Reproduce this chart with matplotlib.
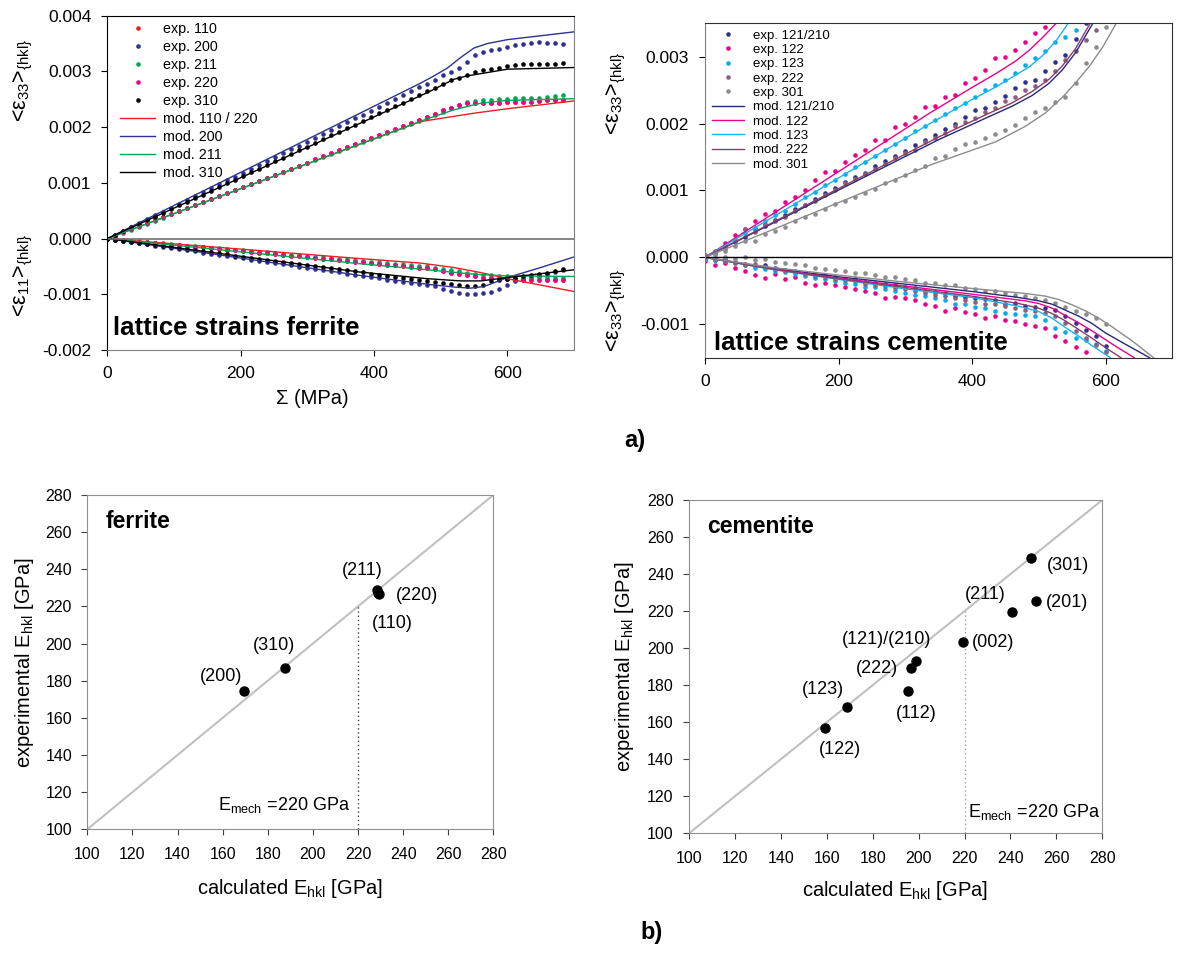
import numpy as np
import matplotlib
matplotlib.use("Agg")
import matplotlib.pyplot as plt

plt.rcParams['font.family'] = ['Liberation Sans', 'DejaVu Sans']
plt.rcParams['mathtext.fontset'] = 'custom'
plt.rcParams['mathtext.rm'] = 'Liberation Sans'
plt.rcParams['mathtext.it'] = 'Liberation Sans:italic'
plt.rcParams['mathtext.bf'] = 'Liberation Sans:bold'
plt.rcParams['axes.unicode_minus'] = False

# ---------------- ferrite lattice strains (microstrain) ----------------
stress_fe = [0, 12, 24, 36, 48, 60, 72, 84, 96, 108, 120, 132, 144, 156, 168, 180, 192, 204,
             216, 228, 240, 252, 264, 276, 288, 300, 312, 324, 336, 348, 360, 372, 384, 396,
             408, 420, 432, 444, 456, 468, 480, 492, 504, 516, 528, 540, 552, 564, 576, 588,
             600, 612, 624, 636, 648, 660, 672, 684]

fe33_200 = [0, 70, 140, 210, 280, 350, 415, 485, 555, 625, 695, 765, 835, 905, 975, 1045, 1110,
            1180, 1250, 1320, 1390, 1460, 1530, 1600, 1670, 1740, 1810, 1880, 1950, 2020, 2085,
            2155, 2225, 2295, 2365, 2435, 2505, 2575, 2645, 2715, 2780, 2850, 2930, 2990, 3060,
            3170, 3290, 3340, 3390, 3410, 3440, 3480, 3500, 3515, 3520, 3510, 3510, 3500]
fe33_310 = [0, 65, 130, 200, 265, 330, 395, 460, 530, 595, 660, 725, 790, 860, 925, 990, 1055,
            1120, 1190, 1255, 1320, 1385, 1450, 1520, 1585, 1650, 1715, 1780, 1850, 1915, 1980,
            2045, 2110, 2180, 2245, 2310, 2375, 2440, 2510, 2575, 2640, 2705, 2775, 2840, 2880,
            2930, 2990, 3020, 3050, 3070, 3090, 3110, 3130, 3140, 3140, 3140, 3140, 3150]
fe33_220 = [0, 55, 110, 165, 220, 275, 330, 380, 435, 490, 545, 600, 655, 710, 765, 820, 875,
            930, 985, 1035, 1090, 1145, 1200, 1255, 1310, 1365, 1420, 1475, 1530, 1585, 1640,
            1690, 1745, 1800, 1855, 1910, 1965, 2020, 2075, 2130, 2190, 2230, 2300, 2350, 2400,
            2440, 2440, 2430, 2440, 2440, 2450, 2450, 2460, 2460, 2470, 2480, 2480, 2490]
fe33_211 = [0, 54, 108, 162, 216, 270, 324, 378, 432, 486, 540, 594, 648, 702, 756, 810, 864,
            918, 972, 1026, 1080, 1134, 1188, 1242, 1296, 1350, 1404, 1458, 1512, 1566, 1620,
            1674, 1728, 1782, 1836, 1890, 1944, 1998, 2052, 2106, 2165, 2215, 2280, 2340, 2390,
            2450, 2470, 2480, 2490, 2500, 2510, 2520, 2520, 2530, 2530, 2540, 2550, 2570]
fe33_110 = fe33_220  # 110 and 220 are the same reflection family, points coincide

fe11_200 = [0, -21, -42, -63, -84, -105, -126, -147, -168, -189, -210, -231, -252, -273, -294,
            -315, -336, -357, -378, -399, -420, -441, -462, -483, -504, -525, -546, -567, -588,
            -609, -630, -651, -672, -693, -714, -735, -756, -777, -798, -815, -830, -855, -900,
            -935, -975, -995, -1000, -985, -955, -900, -830, -770, -720, -690, -665, -635, -600,
            -560]
fe11_310 = [0, -19, -38, -57, -76, -95, -114, -133, -152, -171, -190, -209, -228, -247, -266,
            -285, -304, -323, -342, -361, -380, -399, -418, -437, -456, -475, -494, -513, -532,
            -551, -570, -589, -608, -627, -646, -665, -684, -703, -722, -741, -760, -780, -800,
            -820, -840, -855, -860, -830, -770, -745, -720, -700, -670, -650, -630, -615, -590,
            -550]
fe11_220 = [0, -13, -27, -40, -53, -67, -80, -93, -107, -120, -133, -147, -160, -173, -187,
            -200, -213, -227, -240, -253, -267, -280, -293, -307, -320, -333, -347, -360, -373,
            -387, -400, -413, -427, -440, -453, -467, -480, -493, -507, -520, -533, -550, -580,
            -610, -640, -660, -680, -700, -710, -720, -730, -740, -740, -745, -745, -745, -750,
            -750]
fe11_211 = [0, -12, -25, -37, -50, -62, -75, -87, -100, -112, -125, -137, -150, -162, -175,
            -187, -200, -212, -225, -237, -250, -262, -275, -287, -300, -312, -325, -337, -350,
            -362, -375, -387, -400, -412, -425, -437, -450, -462, -475, -487, -500, -520, -545,
            -570, -590, -610, -630, -650, -660, -670, -680, -690, -690, -695, -695, -700, -700,
            -700]
fe11_110 = fe11_220

# model curves (stress, microstrain)
mod_fe33 = {
    '110 / 220': ([0, 470, 550, 600, 700], [0, 2100, 2250, 2330, 2470]),
    '200': ([0, 470, 490, 510, 530, 550, 570, 600, 650, 700],
            [0, 2790, 2920, 3060, 3250, 3420, 3500, 3570, 3640, 3710]),
    '211': ([0, 480, 520, 560, 600, 700], [0, 2150, 2310, 2430, 2480, 2510]),
    '310': ([0, 480, 500, 520, 540, 560, 600, 700], [0, 2620, 2740, 2860, 2920, 2960, 3040, 3070]),
}
mod_fe11 = {
    '110 / 220': ([0, 380, 470, 520, 560, 600, 700], [0, -360, -440, -520, -610, -720, -950]),
    '200': ([0, 378, 480, 520, 545, 565, 585, 600, 650, 700],
            [0, -660, -820, -870, -890, -860, -770, -700, -520, -330]),
    '211': ([0, 378, 480, 550, 600, 700], [0, -450, -560, -640, -670, -680]),
    '310': ([0, 378, 480, 530, 560, 600, 700], [0, -600, -720, -760, -760, -700, -560]),
}

# ---------------- cementite lattice strains (microstrain) ----------------
stress_ce = [0, 15, 30, 45, 60, 75, 90, 105, 120, 135, 150, 165, 180, 195, 210, 225, 240, 255,
             270, 285, 300, 315, 330, 345, 360, 375, 390, 405, 420, 435, 450, 465, 480, 495,
             510, 525, 540, 555, 570, 585, 600]

ce33_121 = [-20, 70, 150, 230, 300, 420, 470, 560, 640, 720, 790, 880, 960, 1040, 1120, 1200,
            1260, 1370, 1440, 1520, 1590, 1680, 1760, 1830, 1920, 2000, 2100, 2210, 2240, 2330,
            2420, 2540, 2620, 2650, 2780, 2920, 3020, 3270, 3500, 3700, 3900]
ce33_122 = [40, 60, 210, 330, 420, 540, 650, 700, 830, 900, 1000, 1150, 1280, 1290, 1420, 1530,
            1600, 1750, 1760, 1950, 2000, 2100, 2250, 2260, 2400, 2430, 2600, 2680, 2800, 2980,
            3000, 3100, 3220, 3350, 3450, 3550, 3700, 3900, 4100, 4300, 4500]
ce33_123 = [20, 60, 170, 250, 370, 440, 540, 640, 700, 800, 900, 980, 1080, 1150, 1250, 1350,
            1420, 1510, 1610, 1700, 1780, 1890, 1960, 2050, 2150, 2240, 2310, 2400, 2500, 2580,
            2650, 2750, 2870, 2980, 3080, 3220, 3300, 3400, 3650, 3900, 4100]
ce33_222 = [30, 100, 120, 260, 430, 380, 500, 540, 600, 700, 780, 850, 930, 1000, 1110, 1170,
            1250, 1320, 1390, 1480, 1560, 1610, 1720, 1780, 1860, 1960, 2020, 2090, 2180, 2230,
            2340, 2400, 2510, 2560, 2650, 2780, 2950, 3080, 3250, 3400, 3600]
ce33_301 = [20, 30, 100, 170, 250, 240, 350, 400, 460, 540, 600, 650, 720, 800, 850, 900, 970,
            1020, 1110, 1150, 1230, 1300, 1370, 1480, 1520, 1620, 1690, 1720, 1790, 1850, 1900,
            1980, 2080, 2180, 2230, 2320, 2400, 2600, 2900, 3150, 3450]

ce11_121 = [10, -40, -30, -70, -100, -130, -120, -160, -190, -220, -230, -260, -270, -300, -320,
            -330, -370, -390, -400, -420, -440, -460, -500, -520, -540, -570, -590, -610, -620,
            -640, -700, -680, -720, -740, -760, -790, -880, -980, -1080, -1180, -1320]
ce11_122 = [-60, -110, -90, -160, -200, -260, -310, -250, -320, -300, -380, -410, -380, -420,
            -440, -470, -500, -540, -610, -590, -600, -640, -690, -720, -800, -760, -820, -850,
            -900, -880, -930, -950, -990, -1020, -1060, -1180, -1250, -1340, -1420, -1550, -1650]
ce11_123 = [-20, -40, -60, -90, -120, -160, -170, -200, -220, -250, -280, -310, -320, -350,
            -380, -400, -440, -450, -480, -500, -530, -560, -580, -610, -640, -690, -700, -740,
            -760, -800, -830, -850, -860, -880, -940, -1050, -1120, -1200, -1230, -1300, -1400]
ce11_222 = [0, -20, -50, -80, -110, -100, -150, -180, -200, -210, -250, -280, -300, -320, -340,
            -360, -400, -410, -430, -460, -480, -510, -540, -560, -580, -610, -640, -660, -690,
            -700, -730, -760, -780, -800, -830, -880, -980, -1100, -1200, -1310, -1420]
ce11_301 = [10, -10, 0, -20, 0, -40, -30, -70, -90, -100, -120, -160, -170, -190, -210, -240,
            -230, -270, -290, -300, -330, -340, -380, -390, -410, -420, -460, -470, -500, -510,
            -530, -560, -570, -600, -640, -680, -740, -800, -850, -900, -1000]

mod_ce33 = {
    '121/210': ([0, 350, 420, 460, 490, 515, 535, 555, 581],
                [0, 1760, 2080, 2260, 2420, 2600, 2800, 3060, 3500]),
    '122': ([0, 337, 400, 436, 466, 486, 506, 526],
            [0, 2160, 2540, 2750, 2940, 3100, 3290, 3500]),
    '123': ([0, 337, 400, 436, 466, 486, 506, 526, 544],
            [0, 2000, 2360, 2550, 2730, 2850, 3020, 3240, 3500]),
    '222': ([0, 350, 420, 460, 490, 515, 535, 555, 577],
            [0, 1800, 2130, 2310, 2480, 2660, 2860, 3120, 3500]),
    '301': ([0, 337, 436, 480, 510, 536, 556, 576, 596, 616],
            [0, 1380, 1730, 1960, 2160, 2400, 2620, 2860, 3150, 3500]),
}
mod_ce11 = {
    '121/210': ([0, 100, 200, 300, 400, 470, 500, 520, 540, 560, 580, 600, 630, 666],
                [0, -160, -290, -400, -510, -600, -650, -700, -790, -880, -990, -1130, -1300, -1500]),
    '122': ([0, 100, 200, 300, 400, 480, 500, 520, 540, 560, 580, 600, 620, 643],
            [0, -170, -310, -430, -550, -650, -690, -760, -870, -980, -1100, -1230, -1360, -1500]),
    '123': ([0, 100, 200, 300, 400, 470, 500, 520, 540, 560, 580, 607],
            [0, -180, -330, -470, -600, -730, -810, -910, -1050, -1180, -1320, -1500]),
    '222': ([0, 100, 200, 300, 400, 470, 500, 520, 540, 560, 580, 600, 623],
            [0, -175, -320, -450, -580, -690, -760, -840, -950, -1080, -1210, -1350, -1500]),
    '301': ([0, 100, 200, 300, 400, 480, 510, 530, 550, 570, 590, 610, 640, 672],
            [0, -150, -265, -370, -465, -540, -580, -630, -710, -800, -910, -1040, -1250, -1500]),
}

# ---------------- elastic constants ----------------
e_mech = 220
fe_labels = ['(211)', '(220)', '(110)', '(310)', '(200)']
fe_calc = [228.3, 229.5, 229.0, 187.6, 169.6]
fe_exp = [228.8, 226.5, 227.0, 186.7, 174.6]
fe_label_pos = [(222, 239.6), (246, 226), (235.4, 211), (182.8, 199.2), (159.3, 182.5)]

ce_labels = ['(301)', '(201)', '(211)', '(002)', '(121)/(210)', '(222)', '(112)', '(123)', '(122)']
ce_calc = [248.8, 251.1, 240.5, 219.5, 198.9, 196.7, 195.5, 168.9, 159.2]
ce_exp = [248.5, 225.6, 219.7, 203.5, 193.2, 189.1, 177.0, 168.4, 157.0]
ce_label_pos = [(265.2, 244.4), (264.5, 224.5), (228.9, 228.7), (232.5, 202.9), (186.1, 204.4),
                (181.7, 189.1), (198.9, 164.8), (158.5, 177.4), (165.8, 145.0)]

# colours
fe_colors = {'110': '#ed1c24', '200': '#2e3192', '211': '#00a651', '220': '#ec008c', '310': '#000000'}
fe_mod_colors = {'110 / 220': '#ed1c24', '200': '#2e3192', '211': '#00a651', '310': '#000000'}
ce_colors = {'121/210': '#2e3192', '122': '#ec008c', '123': '#00aeef', '222': '#8c5f7d', '301': '#8c8c8c'}
ce_mod_colors = {'121/210': '#262a78', '122': '#ec008c', '123': '#1ab4ee', '222': '#8b3d66', '301': '#8c8c8c'}

W, H = 1190, 956
fig = plt.figure(figsize=(W / 100, H / 100), dpi=100)


def px_axes(l, t, r, b):
    return fig.add_axes([l / W, 1 - b / H, (r - l) / W, (b - t) / H])


def strain(v):
    return np.array(v) * 1e-6


ms = 3.3
ylab33 = '<ε$_{33}$>$_{\\{\\mathrm{hkl}\\}}$'
ylab11 = '<ε$_{11}$>$_{\\{\\mathrm{hkl}\\}}$'

# ---------- top left: ferrite ----------
ax1 = px_axes(107.3, 15.7, 574, 350)
exp_fe = [('110', fe33_110, fe11_110), ('200', fe33_200, fe11_200), ('211', fe33_211, fe11_211),
          ('220', fe33_220, fe11_220), ('310', fe33_310, fe11_310)]
handles = []
for key, e33, e11 in exp_fe:
    h, = ax1.plot(stress_fe, strain(e33), 'o', ms=ms, color=fe_colors[key], mec='none',
                  label='exp. ' + key)
    ax1.plot(stress_fe, strain(e11), 'o', ms=ms, color=fe_colors[key], mec='none')
    handles.append(h)
for key in mod_fe33:
    h, = ax1.plot(mod_fe33[key][0], strain(mod_fe33[key][1]), '-', lw=1.0,
                  color=fe_mod_colors[key], label='mod. ' + key)
    ax1.plot(mod_fe11[key][0], strain(mod_fe11[key][1]), '-', lw=1.0, color=fe_mod_colors[key])
    handles.append(h)
ax1.axhline(0, color='#707070', lw=1.2)
ax1.set_xlim(0, 700)
ax1.set_ylim(-0.002, 0.004)
ax1.set_xticks([0, 200, 400, 600])
ax1.set_yticks([-0.002, -0.001, 0, 0.001, 0.002, 0.003, 0.004])
ax1.yaxis.set_major_formatter(matplotlib.ticker.FormatStrFormatter('%.3f'))
ax1.tick_params(direction='out', length=4, labelsize=12.5, pad=7.5)
for side, c in [('left', 'black'), ('top', 'black'), ('right', '#808080'), ('bottom', '#808080')]:
    ax1.spines[side].set_color(c)
ax1.legend(handles=handles, loc='upper left', bbox_to_anchor=(0.028, 0.981), frameon=False,
           fontsize=10.3, borderaxespad=0, borderpad=0, handlelength=2.4, handletextpad=0.6,
           labelspacing=0.28, markerscale=1.0)
ax1.text(0.012, 0.045, 'lattice strains ferrite', transform=ax1.transAxes, fontsize=18.5,
         fontweight='bold', va='baseline')
ax1.text(-0.18, 0.808, ylab33, transform=ax1.transAxes, rotation=90,
         fontsize=15.5, ha='center', va='center')
ax1.text(-0.18, 0.224, ylab11, transform=ax1.transAxes, rotation=90,
         fontsize=15.5, ha='center', va='center')
fig.text(312 / W, 1 - 398 / H, 'Σ (MPa)', fontsize=14.5, ha='center', va='center')

# ---------- top right: cementite ----------
ax2 = px_axes(705, 23.3, 1172.3, 357.7)
exp_ce = [('121/210', ce33_121, ce11_121), ('122', ce33_122, ce11_122), ('123', ce33_123, ce11_123),
          ('222', ce33_222, ce11_222), ('301', ce33_301, ce11_301)]
handles = []
for key, e33, e11 in exp_ce:
    h, = ax2.plot(stress_ce, strain(e33), 'o', ms=ms, color=ce_colors[key], mec='none',
                  label='exp. ' + key)
    ax2.plot(stress_ce, strain(e11), 'o', ms=ms, color=ce_colors[key], mec='none')
    handles.append(h)
for key in mod_ce33:
    h, = ax2.plot(mod_ce33[key][0], strain(mod_ce33[key][1]), '-', lw=1.0,
                  color=ce_mod_colors[key], label='mod. ' + key)
    ax2.plot(mod_ce11[key][0], strain(mod_ce11[key][1]), '-', lw=1.0, color=ce_mod_colors[key])
    handles.append(h)
ax2.axhline(0, color='black', lw=1.0)
ax2.set_xlim(0, 700)
ax2.set_ylim(-0.0015, 0.0035)
ax2.set_xticks([0, 200, 400, 600])
ax2.set_yticks([-0.001, 0, 0.001, 0.002, 0.003])
ax2.yaxis.set_major_formatter(matplotlib.ticker.FormatStrFormatter('%.3f'))
ax2.tick_params(direction='out', length=4, labelsize=12.5, pad=7.5)
for side, c in [('left', '#808080'), ('top', '#303030'), ('right', '#303030'), ('bottom', '#303030')]:
    ax2.spines[side].set_color(c)
ax2.legend(handles=handles, loc='upper left', bbox_to_anchor=(0.0156, 0.982), frameon=False,
           fontsize=9.5, borderaxespad=0, borderpad=0, handlelength=2.4, handletextpad=0.65,
           labelspacing=0.16, markerscale=1.0)
ax2.text(0.019, 0.023, 'lattice strains cementite', transform=ax2.transAxes, fontsize=18.5,
         fontweight='bold', va='baseline')
ax2.text(-0.189, 0.79, ylab33, transform=ax2.transAxes, rotation=90,
         fontsize=15.5, ha='center', va='center')
ax2.text(-0.189, 0.143, ylab33, transform=ax2.transAxes, rotation=90,
         fontsize=15.5, ha='center', va='center')

fig.text(635 / W, 1 - 441 / H, 'a)', fontsize=17, fontweight='bold', ha='center', va='center')
fig.text(652 / W, 1 - 932 / H, 'b)', fontsize=17, fontweight='bold', ha='center', va='center')


# ---------- bottom: calculated vs experimental E_hkl ----------
def e_panel(ax, calc, exp, labels, label_pos, title, mech_xy, vcolor):
    ax.axline((100, 100), slope=1, color='#c0c0c0', lw=1.5, zorder=1)
    ax.vlines(e_mech, 100, e_mech, colors=vcolor, linestyles=(0, (1, 2)), lw=1.0, zorder=1)
    ax.plot(calc, exp, 'o', ms=6.5, color='black', zorder=3)
    for lab, (tx, ty) in zip(labels, label_pos):
        ax.text(tx, ty, lab, fontsize=13, ha='center', va='center')
    ax.text(mech_xy[0], mech_xy[1], 'E$_{\\rm mech}$ =%d GPa' % e_mech, fontsize=13,
            ha='left', va='center')
    ax.text(0.045, 0.92, title, transform=ax.transAxes, fontsize=16.5, fontweight='bold',
            ha='left', va='center')
    ax.set_xlim(100, 280)
    ax.set_ylim(100, 280)
    ax.set_xticks(range(100, 281, 20))
    ax.set_yticks(range(100, 281, 20))
    ax.tick_params(direction='out', length=4, labelsize=11.5, color='#404040')
    ax.tick_params(axis='x', pad=8.5)
    ax.tick_params(axis='y', pad=7)
    for s in ax.spines.values():
        s.set_color('#909090')


ax3 = px_axes(87.3, 495, 493.3, 829.3)
e_panel(ax3, fe_calc, fe_exp, fe_labels, fe_label_pos, 'ferrite', (158, 113), '#404040')
fig.text(290 / W, 1 - 888 / H, 'calculated E$_{\\rm hkl}$ [GPa]', fontsize=14.5,
         ha='center', va='center')
fig.text(25 / W, 1 - 663 / H, 'experimental E$_{\\rm hkl}$ [GPa]', fontsize=14.5,
         ha='center', va='center', rotation=90)

ax4 = px_axes(689, 500, 1102.3, 833.3)
e_panel(ax4, ce_calc, ce_exp, ce_labels, ce_label_pos, 'cementite', (221.5, 111.5), '#a0a0a0')
fig.text(895 / W, 1 - 891 / H, 'calculated E$_{\\rm hkl}$ [GPa]', fontsize=14.5,
         ha='center', va='center')
fig.text(625 / W, 1 - 667 / H, 'experimental E$_{\\rm hkl}$ [GPa]', fontsize=14.5,
         ha='center', va='center', rotation=90)

fig.savefig('out.png', dpi=100)
